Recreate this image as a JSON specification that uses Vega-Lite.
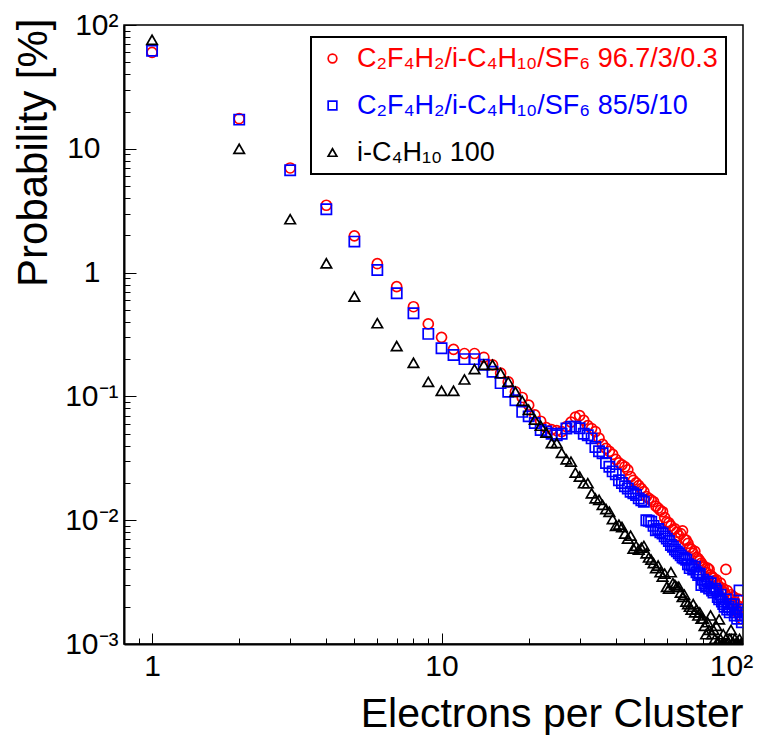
{
"$schema": "https://vega.github.io/schema/vega-lite/v6.json",
"width": 619, "height": 619,
"autosize": {"type": "none"},
"padding": {"left": 124, "top": 25, "right": 25, "bottom": 98},
"background": "white",
"config": {"font": "Liberation Sans", "view": {"stroke": "black", "strokeWidth": 1.5},
  "legend": {"orient": "none", "legendX": 187, "legendY": 12, "strokeColor": "black", "strokeWidth": 2, "fillColor": "white", "padding": 8, "labelFont": "Liberation Sans", "labelFontSize": 27, "labelLimit": 0, "symbolSize": 75, "symbolStrokeWidth": 1.7, "rowPadding": 19, "labelOffset": 11, "title": null}},
"datasets": {
"red": [{"x":1,"y":60},{"x":2,"y":17.5},{"x":3,"y":7.0},{"x":4,"y":3.5},{"x":5,"y":1.98},{"x":6,"y":1.18},{"x":7,"y":0.77},{"x":8,"y":0.53},{"x":9,"y":0.385},{"x":10,"y":0.30},{"x":11,"y":0.24},{"x":12,"y":0.222},{"x":13,"y":0.222},{"x":14,"y":0.207},{"x":15,"y":0.18},{"x":16,"y":0.154},{"x":17,"y":0.131},{"x":18,"y":0.109},{"x":19,"y":0.098},{"x":20,"y":0.085},{"x":21,"y":0.071},{"x":22,"y":0.063},{"x":23,"y":0.056},{"x":24,"y":0.054},{"x":25,"y":0.053},{"x":26,"y":0.052},{"x":27,"y":0.057},{"x":28,"y":0.062},{"x":29,"y":0.068},{"x":30,"y":0.070},{"x":31,"y":0.064},{"x":32,"y":0.058},{"x":33,"y":0.055},{"x":34,"y":0.052},{"x":35,"y":0.046},{"x":36,"y":0.041},{"x":37,"y":0.038},{"x":38,"y":0.036},{"x":39,"y":0.034},{"x":40,"y":0.031},{"x":41,"y":0.029},{"x":42,"y":0.028},{"x":43,"y":0.027},{"x":44,"y":0.0255},{"x":45,"y":0.0225},{"x":46,"y":0.021},{"x":47,"y":0.020},{"x":48,"y":0.019},{"x":49,"y":0.018},{"x":50,"y":0.017},{"x":51,"y":0.0155},{"x":52,"y":0.015},{"x":53,"y":0.0145},{"x":54,"y":0.0141},{"x":55,"y":0.013},{"x":56,"y":0.0125},{"x":57,"y":0.012},{"x":58,"y":0.0117},{"x":59,"y":0.0105},{"x":60,"y":0.0097},{"x":61,"y":0.0095},{"x":62,"y":0.009},{"x":63,"y":0.0083},{"x":64,"y":0.0085},{"x":65,"y":0.008},{"x":66,"y":0.0075},{"x":67,"y":0.0078},{"x":68,"y":0.0082},{"x":69,"y":0.007},{"x":70,"y":0.0069},{"x":71,"y":0.0065},{"x":72,"y":0.006},{"x":73,"y":0.0058},{"x":74,"y":0.0054},{"x":75,"y":0.0056},{"x":76,"y":0.005},{"x":77,"y":0.0049},{"x":78,"y":0.0047},{"x":79,"y":0.0045},{"x":80,"y":0.0043},{"x":81,"y":0.0042},{"x":82,"y":0.0038},{"x":83,"y":0.0041},{"x":84,"y":0.004},{"x":85,"y":0.0036},{"x":86,"y":0.0035},{"x":87,"y":0.0034},{"x":88,"y":0.0032},{"x":89,"y":0.0033},{"x":90,"y":0.003},{"x":91,"y":0.0029},{"x":92,"y":0.0031},{"x":93,"y":0.0027},{"x":94,"y":0.0028},{"x":95,"y":0.0026},{"x":96,"y":0.004},{"x":97,"y":0.0027},{"x":98,"y":0.0024},{"x":99,"y":0.0023},{"x":100,"y":0.0025},{"x":101,"y":0.0021},{"x":102,"y":0.0024},{"x":103,"y":0.0022},{"x":104,"y":0.0019},{"x":105,"y":0.0018},{"x":106,"y":0.0023},{"x":107,"y":0.002},{"x":108,"y":0.0017},{"x":109,"y":0.0016},{"x":110,"y":0.0019}],
"blue": [{"x":1,"y":62},{"x":2,"y":17.2},{"x":3,"y":6.7},{"x":4,"y":3.25},{"x":5,"y":1.78},{"x":6,"y":1.05},{"x":7,"y":0.68},{"x":8,"y":0.47},{"x":9,"y":0.32},{"x":10,"y":0.245},{"x":11,"y":0.216},{"x":12,"y":0.20},{"x":13,"y":0.20},{"x":14,"y":0.18},{"x":15,"y":0.158},{"x":16,"y":0.128},{"x":17,"y":0.109},{"x":18,"y":0.093},{"x":19,"y":0.075},{"x":20,"y":0.069},{"x":21,"y":0.061},{"x":22,"y":0.0535},{"x":23,"y":0.052},{"x":24,"y":0.050},{"x":25,"y":0.0485},{"x":26,"y":0.050},{"x":27,"y":0.055},{"x":28,"y":0.057},{"x":29,"y":0.057},{"x":30,"y":0.0553},{"x":31,"y":0.050},{"x":32,"y":0.0485},{"x":33,"y":0.0458},{"x":34,"y":0.039},{"x":35,"y":0.036},{"x":36,"y":0.0348},{"x":37,"y":0.029},{"x":38,"y":0.027},{"x":39,"y":0.0248},{"x":40,"y":0.0235},{"x":41,"y":0.021},{"x":42,"y":0.020},{"x":43,"y":0.0188},{"x":44,"y":0.018},{"x":45,"y":0.017},{"x":46,"y":0.0165},{"x":47,"y":0.016},{"x":48,"y":0.015},{"x":49,"y":0.0145},{"x":50,"y":0.0141},{"x":51,"y":0.010},{"x":52,"y":0.0099},{"x":53,"y":0.0097},{"x":54,"y":0.009},{"x":55,"y":0.0083},{"x":56,"y":0.0085},{"x":57,"y":0.008},{"x":58,"y":0.0078},{"x":59,"y":0.0074},{"x":60,"y":0.0071},{"x":61,"y":0.0068},{"x":62,"y":0.0063},{"x":63,"y":0.0061},{"x":64,"y":0.0058},{"x":65,"y":0.0056},{"x":66,"y":0.0054},{"x":67,"y":0.0052},{"x":68,"y":0.005},{"x":69,"y":0.0049},{"x":70,"y":0.0048},{"x":71,"y":0.0044},{"x":72,"y":0.0041},{"x":73,"y":0.0043},{"x":74,"y":0.004},{"x":75,"y":0.0042},{"x":76,"y":0.0038},{"x":77,"y":0.0036},{"x":78,"y":0.0037},{"x":79,"y":0.003},{"x":80,"y":0.0033},{"x":81,"y":0.0031},{"x":82,"y":0.0029},{"x":83,"y":0.0032},{"x":84,"y":0.0028},{"x":85,"y":0.0031},{"x":86,"y":0.0027},{"x":87,"y":0.0026},{"x":88,"y":0.0028},{"x":89,"y":0.0027},{"x":90,"y":0.0024},{"x":91,"y":0.0023},{"x":92,"y":0.0025},{"x":93,"y":0.0022},{"x":94,"y":0.0021},{"x":95,"y":0.002},{"x":96,"y":0.0023},{"x":97,"y":0.0019},{"x":98,"y":0.002},{"x":99,"y":0.0018},{"x":100,"y":0.0021},{"x":101,"y":0.0019},{"x":102,"y":0.0021},{"x":103,"y":0.0017},{"x":104,"y":0.0018},{"x":105,"y":0.0016},{"x":106,"y":0.0019},{"x":107,"y":0.0027},{"x":108,"y":0.0017},{"x":109,"y":0.0015},{"x":110,"y":0.0018}],
"black": [{"x":1,"y":76},{"x":2,"y":10},{"x":3,"y":2.7},{"x":4,"y":1.19},{"x":5,"y":0.64},{"x":6,"y":0.39},{"x":7,"y":0.255},{"x":8,"y":0.187},{"x":9,"y":0.131},{"x":10,"y":0.111},{"x":11,"y":0.111},{"x":12,"y":0.137},{"x":13,"y":0.166},{"x":14,"y":0.18},{"x":15,"y":0.18},{"x":16,"y":0.154},{"x":17,"y":0.131},{"x":18,"y":0.109},{"x":19,"y":0.092},{"x":20,"y":0.078},{"x":21,"y":0.065},{"x":22,"y":0.058},{"x":23,"y":0.051},{"x":24,"y":0.042},{"x":25,"y":0.042},{"x":26,"y":0.035},{"x":27,"y":0.031},{"x":28,"y":0.0297},{"x":29,"y":0.0242},{"x":30,"y":0.0225},{"x":31,"y":0.0199},{"x":32,"y":0.0199},{"x":33,"y":0.0165},{"x":34,"y":0.015},{"x":35,"y":0.0146},{"x":36,"y":0.0133},{"x":37,"y":0.0123},{"x":38,"y":0.0117},{"x":39,"y":0.0102},{"x":40,"y":0.009},{"x":41,"y":0.0092},{"x":42,"y":0.0088},{"x":43,"y":0.0078},{"x":44,"y":0.0071},{"x":45,"y":0.0075},{"x":46,"y":0.0059},{"x":47,"y":0.0062},{"x":48,"y":0.0058},{"x":49,"y":0.006},{"x":50,"y":0.0062},{"x":51,"y":0.0054},{"x":52,"y":0.005},{"x":53,"y":0.0048},{"x":54,"y":0.0045},{"x":55,"y":0.0041},{"x":56,"y":0.0043},{"x":57,"y":0.0038},{"x":58,"y":0.0035},{"x":59,"y":0.0037},{"x":60,"y":0.0029},{"x":61,"y":0.0028},{"x":62,"y":0.0038},{"x":63,"y":0.0031},{"x":64,"y":0.003},{"x":65,"y":0.0029},{"x":66,"y":0.0029},{"x":67,"y":0.0026},{"x":68,"y":0.0024},{"x":69,"y":0.0025},{"x":70,"y":0.0022},{"x":71,"y":0.0021},{"x":72,"y":0.002},{"x":73,"y":0.0019},{"x":74,"y":0.0021},{"x":75,"y":0.0018},{"x":76,"y":0.0019},{"x":77,"y":0.0017},{"x":78,"y":0.0018},{"x":79,"y":0.0016},{"x":80,"y":0.0016},{"x":81,"y":0.0014},{"x":82,"y":0.0012},{"x":83,"y":0.0015},{"x":84,"y":0.0013},{"x":85,"y":0.0017},{"x":86,"y":0.0012},{"x":87,"y":0.0013},{"x":88,"y":0.0011},{"x":89,"y":0.0014},{"x":90,"y":0.00105},{"x":91,"y":0.00158},{"x":92,"y":0.0011},{"x":93,"y":0.001},{"x":94,"y":0.0012},{"x":95,"y":0.00102},{"x":96,"y":0.0011},{"x":97,"y":0.001},{"x":98,"y":0.00104},{"x":99,"y":0.0011},{"x":100,"y":0.0013},{"x":101,"y":0.001},{"x":102,"y":0.00102},{"x":103,"y":0.0011},{"x":104,"y":0.001},{"x":105,"y":0.00105},{"x":106,"y":0.001},{"x":107,"y":0.0011},{"x":108,"y":0.001},{"x":109,"y":0.00101},{"x":110,"y":0.001}]
},
"encoding": {
  "x": {"field": "x", "type": "quantitative",
    "scale": {"type": "log", "domain": [0.8, 110], "nice": false},
    "axis": {"values": [0.9,1,2,3,4,5,6,7,8,9,10,20,30,40,50,60,70,80,90,100],
      "labelExpr": "datum.value == 1 ? '1' : datum.value == 10 ? '10' : datum.value == 100 ? '10²' : ''",
      "title": "Electrons per Cluster", "titleFont": "Liberation Sans", "titleFontSize": 41, "titleFontWeight": "normal", "titleColor": "black",
      "titleAnchor": "end", "titleAlign": "right", "titleBaseline": "alphabetic", "titleX": 619, "titleY": 82,
      "labelFont": "Liberation Sans", "labelFontSize": 30, "labelColor": "black", "labelBaseline": "top", "labelPadding": 18,
      "labelFlush": false, "labelOverlap": false, "labelBound": false,
      "tickSize": {"condition": {"test": "datum.value == 1 || datum.value == 10 || datum.value == 100", "value": -11}, "value": -6},
      "tickColor": "black", "tickWidth": 1, "domainColor": "black", "domainWidth": 2, "grid": false}},
  "y": {"field": "y", "type": "quantitative",
    "scale": {"type": "log", "domain": [0.001, 100], "nice": false},
    "axis": {"values": [0.001,0.002,0.003,0.004,0.005,0.006,0.007,0.008,0.009,0.01,0.02,0.03,0.04,0.05,0.06,0.07,0.08,0.09,0.1,0.2,0.3,0.4,0.5,0.6,0.7,0.8,0.9,1,2,3,4,5,6,7,8,9,10,20,30,40,50,60,70,80,90,100],
      "labelExpr": "datum.value == 100 ? '10²' : datum.value == 10 ? '10' : datum.value == 1 ? '1' : datum.value == 0.1 ? '10⁻¹' : datum.value == 0.01 ? '10⁻²' : datum.value == 0.001 ? '10⁻³' : ''",
      "title": "Probability [%]", "titleFont": "Liberation Sans", "titleFontSize": 42, "titleFontWeight": "normal", "titleColor": "black",
      "titleAnchor": "end", "titleAlign": "right", "titleBaseline": "alphabetic", "titleAngle": -90, "titleX": -78, "titleY": -7,
      "labelFont": "Liberation Sans", "labelFontSize": 30, "labelColor": "black", "labelBaseline": "middle", "labelAlign": "right",
      "labelPadding": {"condition": {"test": "datum.value == 10 || datum.value == 1", "value": 36}, "value": 18},
      "labelFlush": false, "labelOverlap": false, "labelBound": false,
      "tickSize": {"condition": {"test": "datum.value == 0.001 || datum.value == 0.01 || datum.value == 0.1 || datum.value == 1 || datum.value == 10 || datum.value == 100", "value": -12}, "value": -6},
      "tickColor": "black", "tickWidth": 1, "domainColor": "black", "domainWidth": 2, "grid": false}},
  "color": {"type": "nominal",
    "scale": {"domain": ["C₂F₄H₂/i-C₄H₁₀/SF₆ 96.7/3/0.3", "C₂F₄H₂/i-C₄H₁₀/SF₆ 85/5/10", "i-C₄H₁₀ 100"], "range": ["#ff0000", "#0000ff", "#000000"]},
    "legend": {"labelColor": {"expr": "scale('color', datum.value)"}}},
  "shape": {"type": "nominal",
    "scale": {"domain": ["C₂F₄H₂/i-C₄H₁₀/SF₆ 96.7/3/0.3", "C₂F₄H₂/i-C₄H₁₀/SF₆ 85/5/10", "i-C₄H₁₀ 100"], "range": ["circle", "square", "triangle-up"]},
    "legend": {"labelColor": {"expr": "scale('color', datum.value)"}}}
},
"layer": [
  {"data": {"name": "red"}, "mark": {"type": "point", "filled": false, "strokeWidth": 1.7, "size": 100, "opacity": 1, "clip": true},
   "encoding": {"color": {"datum": "C₂F₄H₂/i-C₄H₁₀/SF₆ 96.7/3/0.3"}, "shape": {"datum": "C₂F₄H₂/i-C₄H₁₀/SF₆ 96.7/3/0.3"}}},
  {"data": {"name": "blue"}, "mark": {"type": "point", "filled": false, "strokeWidth": 1.7, "size": 105, "opacity": 1, "clip": true},
   "encoding": {"color": {"datum": "C₂F₄H₂/i-C₄H₁₀/SF₆ 85/5/10"}, "shape": {"datum": "C₂F₄H₂/i-C₄H₁₀/SF₆ 85/5/10"}}},
  {"data": {"name": "black"}, "mark": {"type": "point", "filled": false, "strokeWidth": 1.7, "size": 110, "opacity": 1, "clip": true},
   "encoding": {"color": {"datum": "i-C₄H₁₀ 100"}, "shape": {"datum": "i-C₄H₁₀ 100"}}}
]
}
